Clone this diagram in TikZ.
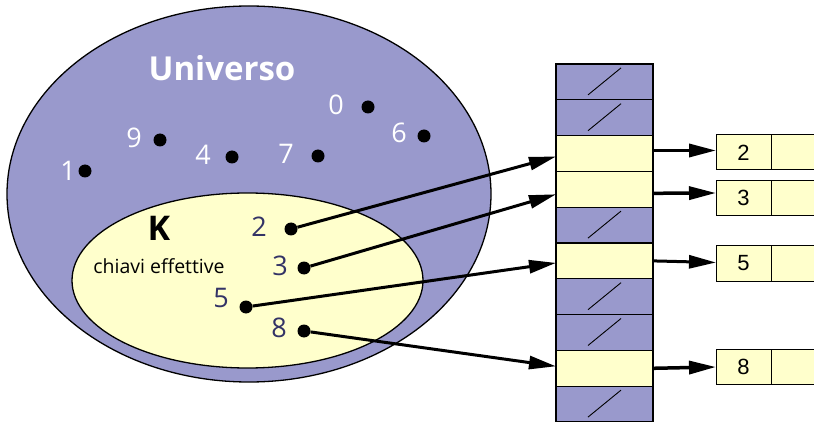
\documentclass[tikz,border=0pt]{standalone}
\usepackage{fontspec}
\setmainfont{Liberation Sans}
\newfontfamily\comic{Open Sans}
\usetikzlibrary{arrows.meta,calc}
\definecolor{uni}{HTML}{9999CC}
\definecolor{kyel}{HTML}{FFFFCC}
\definecolor{knum}{HTML}{333366}
\begin{document}
\begin{tikzpicture}[x=1pt,y=-1pt,
  dot/.style={circle,fill=black,inner sep=0pt,minimum size=13pt},
  unum/.style={text=white,font=\comic\fontsize{27}{27}\selectfont,inner sep=0pt},
  knumst/.style={text=knum,font=\comic\fontsize{27}{27}\selectfont,inner sep=0pt},
  bucket/.style={draw=black,line width=1.3pt,minimum width=97pt,minimum height=35.8pt,inner sep=0pt,outer sep=0pt},
  bempty/.style={bucket,fill=uni},
  bfull/.style={bucket,fill=kyel},
  lcell/.style={draw=black,line width=1pt,fill=kyel,minimum width=55pt,minimum height=35pt,inner sep=0pt,outer sep=0pt,font=\fontsize{22}{22}\selectfont},
  link/.style={-{Triangle[length=27pt,width=13pt]},line width=3pt},
  slash/.style={line width=0.9pt}
]
\useasboundingbox (0,0) rectangle (814,422);
\clip (0,0) rectangle (814,422);
\fill[white] (0,0) rectangle (814,422);

% universe and key set
\draw[fill=uni,line width=1.3pt] (249,194) ellipse [x radius=242, y radius=188];
\draw[fill=kyel,line width=1.3pt] (247.5,280.5) ellipse [x radius=175.5, y radius=87.5];

\node[text=white,font=\comic\bfseries\fontsize{33}{33}\selectfont] (univ) at (222,68) {Universo};

% universe keys
\foreach \n/\dx/\dy/\lx/\ly in {1/85/171/68/171, 9/160/140/134/138, 4/232/157/203/155, 7/318/156/286/154, 0/368/107/336/105, 6/424/136/399/133}{
  \node[dot] (u\n) at (\dx,\dy) {};
  \node[unum] (ul\n) at (\lx,\ly) {\n};
}

% actual keys
\node[font=\comic\bfseries\fontsize{34}{34}\selectfont] (klab) at (159,228) {K};
\node[font=\comic\fontsize{19.5}{19.5}\selectfont] (kdesc) at (159,266) {chiavi effettive};
\foreach \n/\dx/\dy/\lx/\ly in {2/291/229/259/227, 3/304/268/280/266, 5/246/307/221/298, 8/304/331/279/328}{
  \node[dot] (k\n) at (\dx,\dy) {};
  \node[knumst] (kl\n) at (\lx,\ly) {\n};
}

% hash table
\foreach \i/\t in {0/bempty,1/bempty,2/bfull,3/bfull,4/bempty,5/bfull,6/bempty,7/bempty,8/bfull,9/bempty}{
  \node[\t] (b\i) at (604.5,{64+35.8*(\i+0.5)}) {};
}
\foreach \i in {0,1,4,6,7,9}{
  \draw[slash] ($(b\i.center)+(-16.5,13)$) -- ($(b\i.center)+(16.5,-14)$);
}

% list elements
\foreach \n/\y in {2/152.5,3/198,5/263.5,8/367}{
  \node[lcell] (l\n) at (743.5,\y) {\n};
  \node[lcell,anchor=west] (l\n b) at (l\n.east) {};
}

% arrows from keys to buckets
\draw[link] (k2) -- ($(b2.west)+(0,3)$);
\draw[link] (k3) -- ($(b3.west)+(0,5)$);
\draw[link] (k5) -- ($(b5.west)+(0,2)$);
\draw[link] (k8) -- ($(b8.west)+(0,-2)$);

% arrows from buckets to lists
\draw[link,line width=3.5pt] ($(b2.east)+(0,-3)$) -- ($(l2.west)+(0,-2)$);
\draw[link,line width=3.5pt] ($(b3.east)+(0,4)$) -- ($(l3.west)+(0,-5)$);
\draw[link,line width=3pt] ($(b5.east)+(0,0)$) -- ($(l5.west)+(0,-1)$);
\draw[link,line width=3.5pt] (b8.east) -- (l8.west);
\end{tikzpicture}
\end{document}
